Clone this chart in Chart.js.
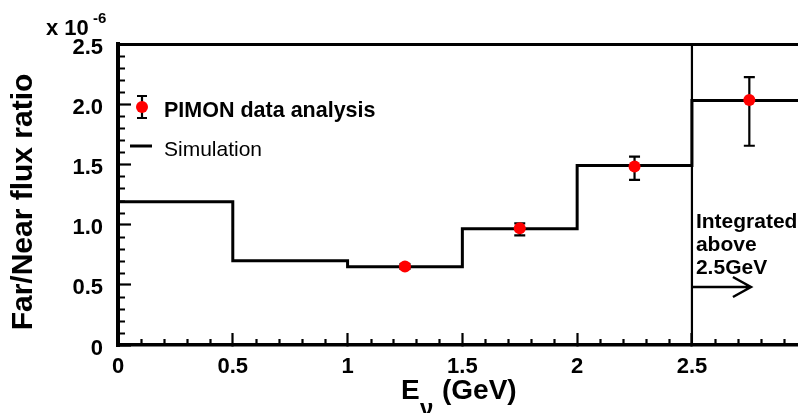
<!DOCTYPE html>
<html><head><meta charset="utf-8">
<script src="https://cdn.jsdelivr.net/npm/chart.js@4.4.1/dist/chart.umd.min.js"></script>
<style>html,body{margin:0;padding:0;background:#fff;}#wrap{width:798px;height:413px;position:relative;}</style>
</head><body><div id="wrap"><canvas id="c" width="798" height="413"></canvas></div>
<script>
// ---- data ----
const binEdges = [0, 0.5, 1.0, 1.5, 2.0, 2.5];
const simValues = [1.19, 0.70, 0.65, 0.965, 1.49, 2.03];
const dataX = [1.25, 1.75, 2.25, 2.75];
const dataY = [0.652, 0.970, 1.482, 2.035];
const dataErrLow = [0.02, 0.06, 0.11, 0.38];
const dataErrHigh = [0.02, 0.04, 0.083, 0.19];
const xTickValues = [0, 0.5, 1, 1.5, 2, 2.5];
const xTickLabels = ['0', '0.5', '1', '1.5', '2', '2.5'];
const yTickValues = [0, 0.5, 1, 1.5, 2, 2.5];
const yTickLabels = ['0', '0.5', '1.0', '1.5', '2.0', '2.5'];
const X_MIN = 0, X_MAX = 2.962, Y_MIN = 0, Y_MAX = 2.5;
const integratedEdge = 2.5;
const minorStep = 0.1;

const FONT = "'Liberation Sans', Arial, Helvetica, sans-serif";

const stepPoints = binEdges.map((x, i) => ({x: x, y: simValues[i]}));
stepPoints.push({x: X_MAX, y: simValues[simValues.length - 1]});
const dataPoints = dataX.map((x, i) => ({x: x, y: dataY[i]}));
const edgeLine = [{x: integratedEdge, y: Y_MIN}, {x: integratedEdge, y: Y_MAX}];

function isMajor(v, vals) { return vals.some(t => Math.abs(t - v) < 1e-6); }

const errorBars = {
  id: 'errorBars',
  beforeDatasetsDraw(chart) {
    const {ctx, scales: {x, y}} = chart;
    ctx.save();
    ctx.strokeStyle = '#000';
    ctx.lineWidth = 2.2;
    dataX.forEach((xv, i) => {
      const px = x.getPixelForValue(xv);
      const top = y.getPixelForValue(dataY[i] + dataErrHigh[i]);
      const bot = y.getPixelForValue(dataY[i] - dataErrLow[i]);
      ctx.beginPath();
      ctx.moveTo(px, top); ctx.lineTo(px, bot);
      ctx.moveTo(px - 5.5, top); ctx.lineTo(px + 5.5, top);
      ctx.moveTo(px - 5.5, bot); ctx.lineTo(px + 5.5, bot);
      ctx.stroke();
    });
    ctx.restore();
  }
};

const decorations = {
  id: 'decorations',
  afterDraw(chart) {
    const {ctx, scales: {x, y}, chartArea: a} = chart;
    ctx.save();
    // minor ticks
    ctx.strokeStyle = '#000';
    ctx.lineWidth = 2.2;
    ctx.beginPath();
    for (let k = 1; k * minorStep < X_MAX; k++) {
      const v = k * minorStep;
      if (isMajor(v, xTickValues)) continue;
      const px = Math.round(x.getPixelForValue(v)) + 0.5;
      ctx.moveTo(px, a.bottom); ctx.lineTo(px, a.bottom - 6);
    }
    for (let k = 1; k * minorStep < Y_MAX - 1e-6; k++) {
      const v = k * minorStep;
      if (isMajor(v, yTickValues)) continue;
      const py = Math.round(y.getPixelForValue(v)) + 0.5;
      ctx.moveTo(a.left, py); ctx.lineTo(a.left + 7, py);
    }
    ctx.stroke();

    ctx.fillStyle = '#000';
    // exponent label
    ctx.textBaseline = 'alphabetic';
    ctx.textAlign = 'left';
    ctx.font = 'bold 22px ' + FONT;
    ctx.fillText('x 10', 46, 35);
    ctx.font = 'bold 15px ' + FONT;
    ctx.fillText('-6', 93, 23);

    // y title
    ctx.save();
    ctx.translate(32, 202);
    ctx.rotate(-Math.PI / 2);
    ctx.textAlign = 'center';
    ctx.font = 'bold 30px ' + FONT;
    ctx.fillText('Far/Near flux ratio', 0, 0);
    ctx.restore();

    // x title
    ctx.textAlign = 'left';
    ctx.font = 'bold 28px ' + FONT;
    ctx.fillText('E', 401, 399);
    ctx.font = 'bold 24px ' + FONT;
    ctx.fillText('\u03BD', 420, 416);
    ctx.font = 'bold 28px ' + FONT;
    ctx.fillText('(GeV)', 442, 399);

    // legend
    const lx = 142, ly = 107;
    ctx.strokeStyle = '#000';
    ctx.lineWidth = 2.2;
    ctx.beginPath();
    ctx.moveTo(lx, 96); ctx.lineTo(lx, 118);
    ctx.moveTo(lx - 5, 96); ctx.lineTo(lx + 5, 96);
    ctx.moveTo(lx - 5, 118); ctx.lineTo(lx + 5, 118);
    ctx.stroke();
    ctx.fillStyle = '#ff0000';
    ctx.beginPath(); ctx.arc(lx, ly, 6, 0, Math.PI * 2); ctx.fill();
    ctx.fillStyle = '#000';
    ctx.font = 'bold 21.5px ' + FONT;
    ctx.fillText('PIMON data analysis', 164, 117);
    ctx.lineWidth = 3;
    ctx.beginPath(); ctx.moveTo(130, 146); ctx.lineTo(152, 146); ctx.stroke();
    ctx.font = '21px ' + FONT;
    ctx.fillText('Simulation', 164, 156);

    // integrated annotation
    const ex = x.getPixelForValue(integratedEdge);
    ctx.font = 'bold 21px ' + FONT;
    ctx.fillText('Integrated', ex + 4, 228);
    ctx.fillText('above', ex + 4, 251);
    ctx.fillText('2.5GeV', ex + 4, 274);
    ctx.lineWidth = 2.5;
    ctx.beginPath();
    ctx.moveTo(ex, 287); ctx.lineTo(ex + 59, 287);
    ctx.moveTo(ex + 41, 277); ctx.lineTo(ex + 59, 287); ctx.lineTo(ex + 41, 297);
    ctx.stroke();
    ctx.restore();
  }
};

new Chart(document.getElementById('c'), {
  type: 'scatter',
  data: {
    datasets: [
      {data: dataPoints, pointRadius: 6, pointHoverRadius: 6, pointBackgroundColor: '#ff0000', pointBorderWidth: 0, showLine: false},
      {data: stepPoints, showLine: true, stepped: 'before', borderColor: '#000', borderWidth: 3, pointRadius: 0, fill: false},
      {data: edgeLine, showLine: true, borderColor: '#000', borderWidth: 2.2, pointRadius: 0, fill: false}
    ]
  },
  options: {
    responsive: false,
    animation: false,
    events: [],
    layout: {autoPadding: false, padding: {left: 0, top: 44, right: 0, bottom: 0}},
    plugins: {legend: {display: false}, tooltip: {enabled: false}},
    scales: {
      x: {
        type: 'linear', min: X_MIN, max: X_MAX,
        afterBuildTicks: s => { s.ticks = xTickValues.map(v => ({value: v})); },
        afterFit: s => { s.height = 68; s.paddingLeft = 0; s.paddingRight = 0; },
        grid: {drawOnChartArea: false, tickLength: -12, tickWidth: 2.2, tickColor: '#000'},
        border: {display: true, color: '#000', width: 3.5},
        ticks: {
          autoSkip: false, maxRotation: 0, color: '#000', padding: 21,
          font: {family: FONT, size: 22, weight: 'bold'},
          callback: v => xTickLabels[xTickValues.findIndex(t => Math.abs(t - v) < 1e-9)]
        }
      },
      y: {
        type: 'linear', min: Y_MIN, max: Y_MAX,
        afterBuildTicks: s => { s.ticks = yTickValues.map(v => ({value: v})); },
        afterFit: s => { s.width = 118; s.paddingTop = 0; s.paddingBottom = 0; },
        grid: {
          drawOnChartArea: true, lineWidth: 3,
          color: c => (c.tick && Math.abs(c.tick.value - Y_MAX) < 1e-9) ? '#000' : 'rgba(0,0,0,0)',
          tickLength: -13, tickWidth: 2.2, tickColor: '#000'
        },
        border: {display: true, color: '#000', width: 4},
        ticks: {
          color: '#000', padding: 28, labelOffset: 3.5,
          font: {family: FONT, size: 22, weight: 'bold'},
          callback: v => yTickLabels[yTickValues.findIndex(t => Math.abs(t - v) < 1e-9)]
        }
      }
    }
  },
  plugins: [errorBars, decorations]
});
</script>
</body></html>
